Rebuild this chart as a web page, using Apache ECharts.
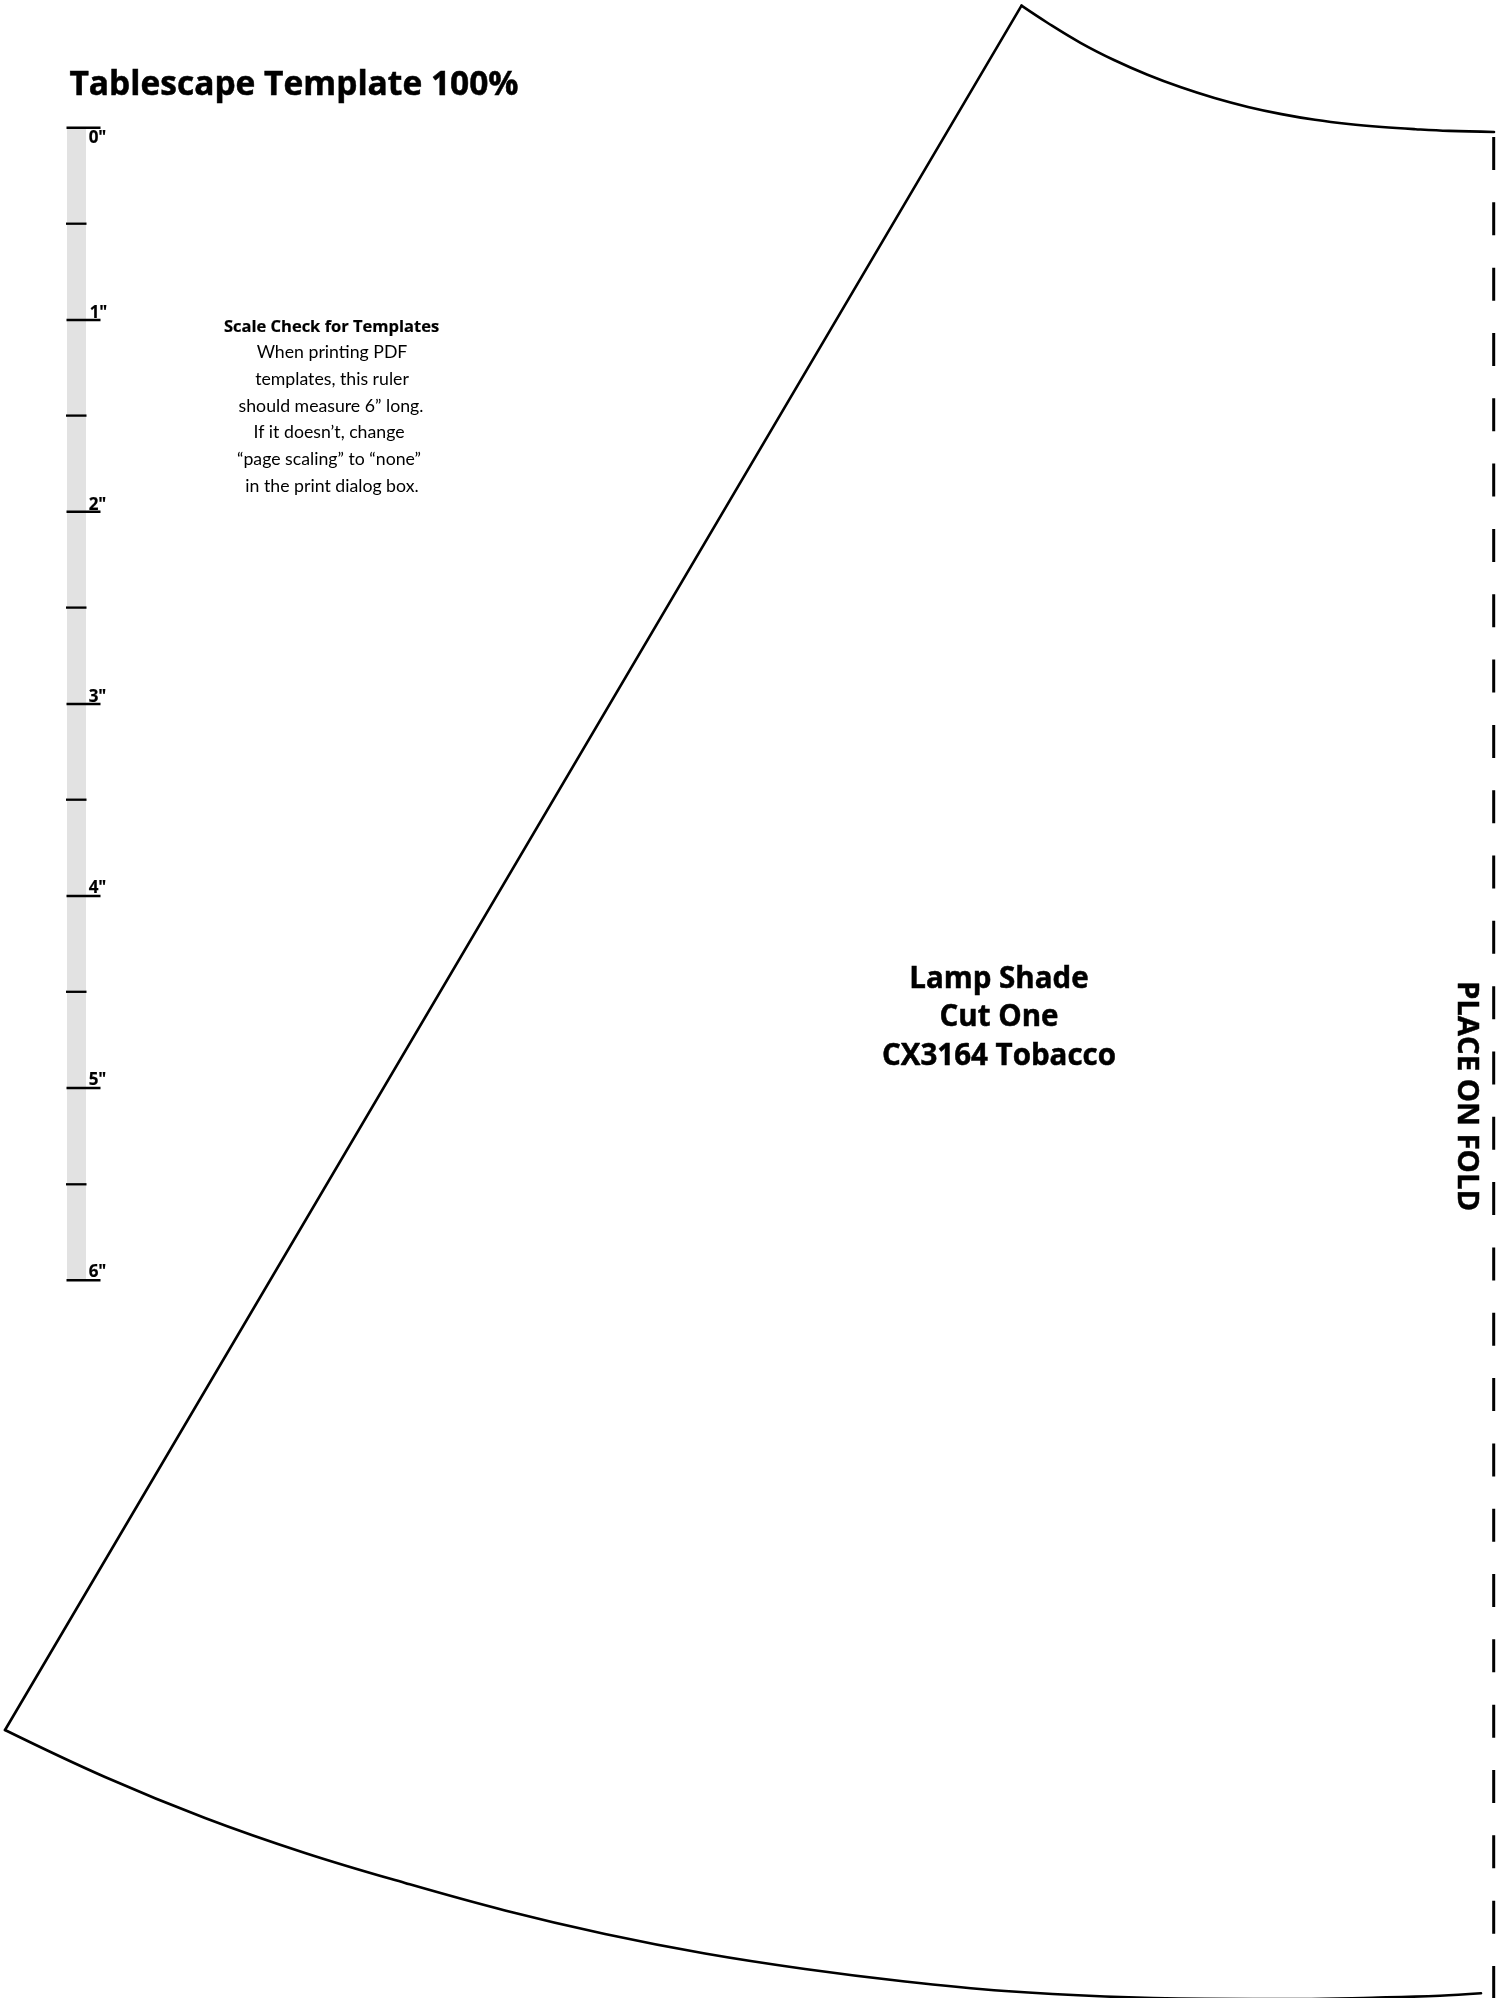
<!DOCTYPE html>
<html><head><meta charset="utf-8">
<style>html,body{margin:0;padding:0;background:#fff}#c{width:1505px;height:1998px}</style>
<script src="https://cdn.jsdelivr.net/npm/echarts@6/dist/echarts.min.js"></script>
</head><body><div id="c"></div>
<script>
const leftEdge = [[1021.5,5.7],[5,1730]];
const topArc = [[1021.5,5.7],[1047,22.5],[1080.5,42.8],[1114,60],[1147.5,74.7],[1181,87.3],[1214.5,98],[1248,106.9],[1281.5,114.1],[1315,119.8],[1348.5,124],[1382,127],[1415.5,129.2],[1449,130.9],[1494,132]];
const bottomArc = [[5,1730],[105,1777],[205,1818],[305,1853],[405,1883],[505,1910.5],[605,1934],[705,1953.5],[805,1969],[905,1981.5],[1005,1991],[1105,1996.5],[1205,1998.7],[1300,1999],[1372,1997.7],[1440,1995.8],[1481,1993.3]];
const foldLine = [[1493.7,137],[1493.7,1998]];
const rulerBand = [[76.5,127.7],[76.5,1280.3]];
const majorTickY = [127.7,320,511.7,704,896,1088,1280.3];
const minorTickY = [223.7,415.6,607.6,799.7,991.8,1184.3];
const rulerLabels = ['0"','1"','2"','3"','4"','5"','6"'];
const rulerLabelX = [97.5,98.5,97.5,97.5,97.5,97.5,97.5];
const rulerLabelY = [138.6,313,505,697,888,1080,1272];
const titleText = 'Tablescape Template 100%';
const noteHead = 'Scale Check for Templates';
const noteLines = ['When printing PDF','templates, this ruler','should measure 6\u201D long.','If it doesn\u2019t, change','\u201Cpage scaling\u201D to \u201Cnone\u201D','in the print dialog box.'];
const noteX = [332,332,331,329,329,332];
const noteY = [352,379,406,432,459,486];
const pieceLines = ['Lamp Shade','Cut One','CX3164 Tobacco'];
const pieceY = [979.5,1018,1056.5];
const foldText = 'PLACE ON FOLD';

const line = (data, width, extra) => Object.assign({type:'line',data,symbol:'none',silent:true,animation:false,
  lineStyle:{color:'#000',width,cap:'round',join:'miter'}}, extra||{});
function textSeries(items){
  return {type:'scatter',symbolSize:0,silent:true,animation:false,z:10,itemStyle:{opacity:1},
    data:items.map(t=>({value:[t.x,t.y],label:{show:true,position:'inside',formatter:()=>t.text,
      align:'center',verticalAlign:'middle',fontFamily:t.bold?'Open Sans':'Lato',fontWeight:t.bold?700:400,
      fontSize:t.size,color:'#000',opacity:1,rotate:t.rotate||0,
      textBorderColor:'#000',textBorderWidth:t.bold?(t.stroke||0.5):0}}))};
}
const series = [
  {type:'line',data:rulerBand,symbol:'none',silent:true,animation:false,z:1,lineStyle:{color:'#e2e2e2',width:19,cap:'butt'}},
  line(leftEdge,2.6),
  Object.assign(line(topArc,2.6),{smooth:0.4}),
  Object.assign(line(bottomArc,2.6),{smooth:0.4}),
  {type:'line',data:foldLine,symbol:'none',silent:true,animation:false,lineStyle:{color:'#000',width:3,cap:'butt',type:[33,32.32]}},
  ...majorTickY.map(y=>({type:'line',data:[[66.5,y],[100.5,y]],symbol:'none',silent:true,animation:false,z:3,lineStyle:{color:'#000',width:2.6,cap:'butt'}})),
  ...minorTickY.map(y=>({type:'line',data:[[66,y],[86.5,y]],symbol:'none',silent:true,animation:false,z:3,lineStyle:{color:'#000',width:2.3,cap:'butt'}})),
  textSeries([
    {x:294,y:85.5,text:titleText,size:33.5,bold:true},
    ...rulerLabels.map((t,i)=>({x:rulerLabelX[i],y:rulerLabelY[i],text:t,size:17,bold:true,stroke:0.2})),
    {x:331.5,y:327,text:noteHead,size:16.5,bold:true,stroke:0.2},
    ...noteLines.map((t,i)=>({x:noteX[i],y:noteY[i],text:t,size:17.7})),
    ...pieceLines.map((t,i)=>({x:999,y:pieceY[i],text:t,size:29.5,bold:true})),
    {x:1466,y:1096,text:foldText,size:29.3,bold:true,rotate:-90}
  ])
];
const chart = echarts.init(document.getElementById('c'),null,{renderer:'canvas'});
chart.setOption({
  animation:false,backgroundColor:'#fff',
  grid:{left:0,right:0,top:0,bottom:0},
  xAxis:{type:'value',min:0,max:1505,show:false},
  yAxis:{type:'value',min:0,max:1998,inverse:true,show:false},
  series
});
</script></body></html>
